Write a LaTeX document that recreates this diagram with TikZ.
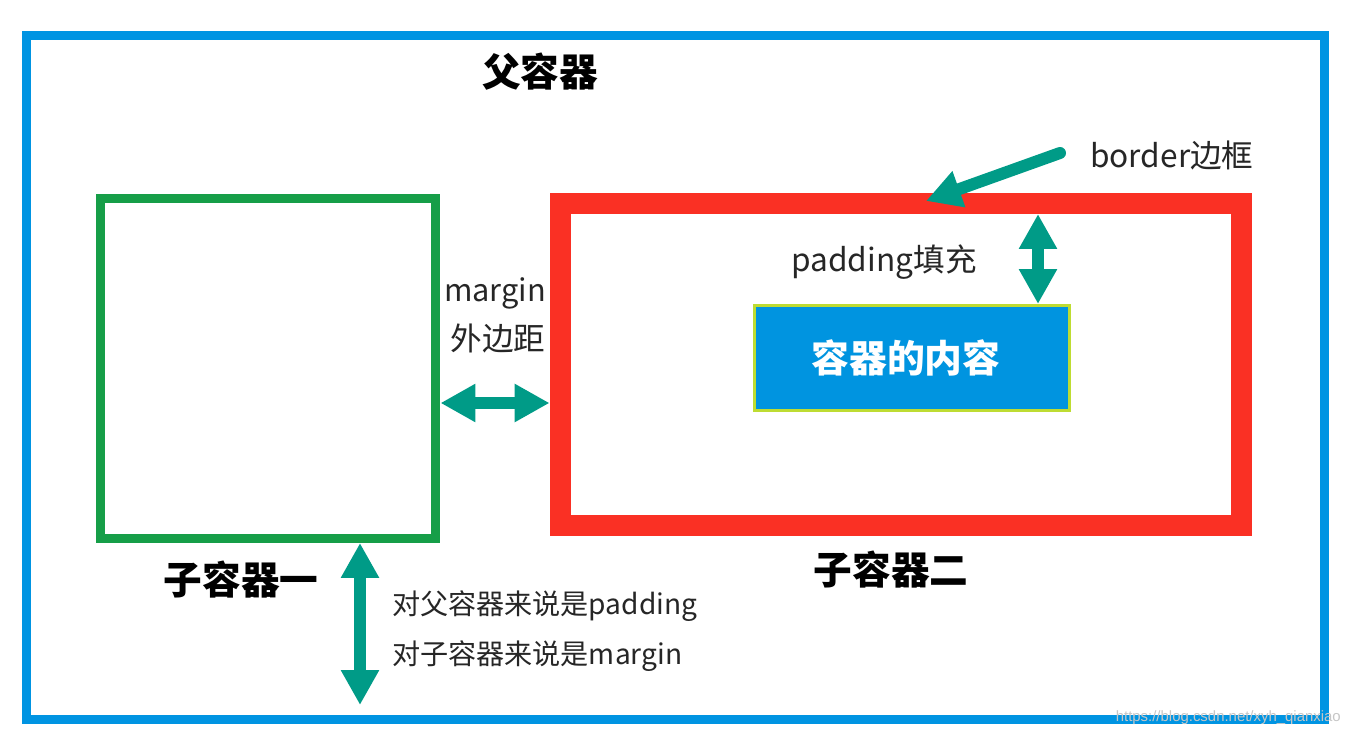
\documentclass[tikz,border=0pt]{standalone}
\usepackage{fontspec}
\setmainfont{Noto Sans CJK SC}
\newfontfamily\urlfont{Liberation Sans}
\usetikzlibrary{arrows.meta, positioning, calc}
\definecolor{frameblue}{RGB}{0,148,226}
\definecolor{boxgreen}{RGB}{22,158,72}
\definecolor{boxred}{RGB}{250,48,36}
\definecolor{arrowteal}{RGB}{0,155,135}
\definecolor{contentblue}{RGB}{0,148,224}
\definecolor{limeedge}{RGB}{190,220,50}

\begin{document}
\begin{tikzpicture}[x=0.02cm, y=-0.02cm,
    boxtitle/.style={font=\fontsize{22}{26}\selectfont\bfseries},
    txt/.style={font=\fontsize{18}{22}\selectfont, text=black!85},
    note/.style={font=\fontsize{16}{19}\selectfont, text=black!85, anchor=west},
    box/.style={draw, inner sep=0pt},
    twoway/.style={arrowteal, line width=0.24cm,
        {Triangle[length=0.7cm, width=0.72cm]}-{Triangle[length=0.7cm, width=0.72cm]}}
]
\useasboundingbox (0,0) rectangle (1356,736);

% Parent container
\node[box, draw=frameblue, line width=0.18cm, minimum width=25.97cm, minimum height=13.68cm] (parent) at (675.25,377.5) {};
\node[boxtitle] (parenttitle) at (540,72) {父容器};

% Child one
\node[box, draw=boxgreen, line width=0.18cm, minimum width=6.72cm, minimum height=6.8cm] (childone) at (268,368.5) {};
\node[boxtitle] (childonetitle) at (241,580) {子容器一};

% Child two with its content
\node[box, draw=boxred, line width=0.42cm, minimum width=13.64cm, minimum height=6.45cm] (childtwo) at (901,364.75) {};
\node[boxtitle] (childtwotitle) at (891,570) {子容器二};
\node[box, draw=limeedge, fill=contentblue, line width=0.06cm, minimum width=6.31cm, minimum height=2.1cm] (content) at (911.75,358) {};
\node[text=white, font=\fontsize{21.5}{26}\selectfont\bfseries] (contenttxt) at (906,358) {容器的内容};

% Labels
\node[txt, anchor=west] (bordertxt) at (1084,155) {border边框};
\node[txt] (paddingtxt) at (884,262) {padding填充};
\node[txt, font=\fontsize{17.5}{21}\selectfont] (margintxt) at (495,293) {margin};
\node[txt] (marginzh) at (498,338) {外边距};
\node[note] (noteone) at (386,606) {对父容器来说是padding};
\node[note] (notetwo) at (386,656) {对子容器来说是margin};

% Arrows
\coordinate (marginrow) at (495,403);
\draw[twoway] (childone.east |- marginrow) -- (childtwo.west |- marginrow);

\coordinate (padtop) at (1038,214);
\draw[twoway] (padtop) -- (content.north -| padtop);

\coordinate (outerbottom) at (360,705);
\draw[twoway] (childone.south -| outerbottom) -- (outerbottom);

\coordinate (bordertail) at (1060,153);
\coordinate (bordertip) at (926,201);
\draw[arrowteal, line width=0.24cm, line cap=round, -{Triangle[length=0.7cm, width=0.72cm]}] (bordertail) -- (bordertip);

% Watermark
\node[anchor=east, text=gray!45, font=\urlfont\fontsize{8.5}{10}\selectfont] (watermark) at (1347,718) {https://blog.csdn.net/xyh\_qianxiao};

\end{tikzpicture}
\end{document}
